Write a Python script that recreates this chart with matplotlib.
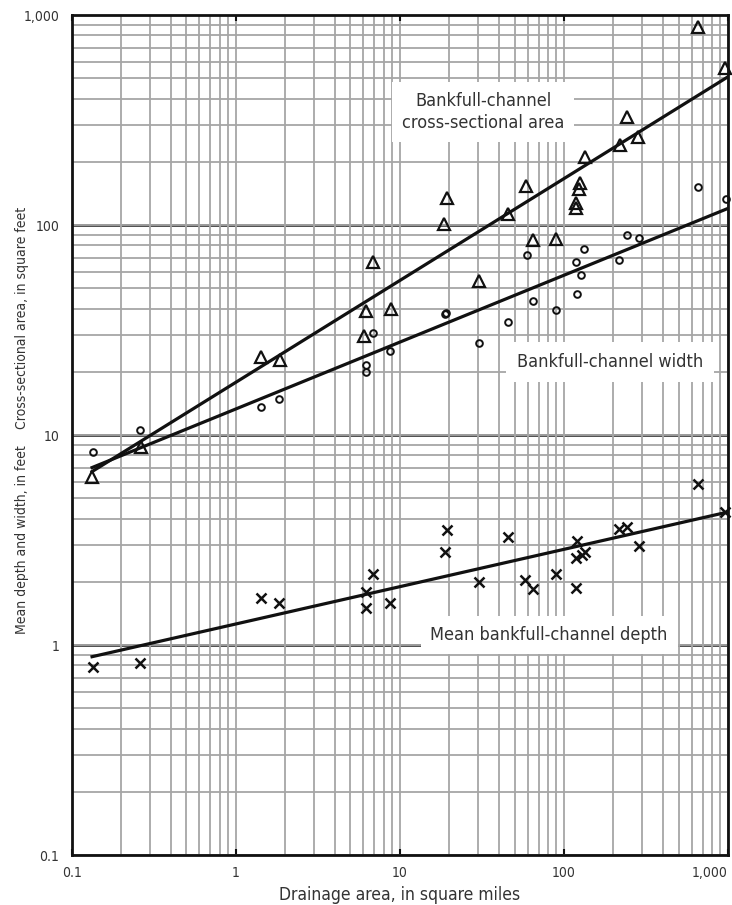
import matplotlib
matplotlib.use("Agg")
import matplotlib.pyplot as plt
from matplotlib.ticker import NullFormatter, LogLocator

plt.rcParams["font.family"] = ["DejaVu Sans"]
plt.rcParams["font.stretch"] = "condensed"

# drainage area (sq mi) and bankfull cross-sectional area (sq ft)
area_x = [0.132, 0.266, 1.43, 1.85, 6.03, 6.26, 6.87, 8.77, 18.5, 19.3, 30.5, 45.7,
          58.6, 65.0, 89.3, 119, 119, 123, 126, 134, 219, 241, 284, 659, 959]
area_y = [6.3, 8.8, 23.4, 22.8, 29.6, 38.9, 66.9, 39.7, 101.6, 134, 54.4, 112.8,
          153, 85.3, 85.5, 120, 127, 149, 158, 211, 240, 328, 263, 880, 557]

# bankfull width (ft)
width_x = [0.134, 0.262, 1.43, 1.83, 6.18, 6.18, 6.87, 8.69, 18.9, 19.1, 30.5, 45.7,
           59.2, 65.0, 88.9, 118, 120.5, 127, 132.5, 216, 243, 287, 659, 973]
width_y = [8.3, 10.6, 13.6, 14.9, 21.5, 20.0, 30.5, 25.2, 37.7, 38.2, 27.3, 34.4,
           72, 43.6, 39.4, 66.9, 46.8, 57.6, 77.1, 68.1, 89.3, 87, 151, 133]

# mean bankfull depth (ft)
depth_x = [0.134, 0.262, 1.43, 1.83, 6.21, 6.26, 6.87, 8.69, 18.8, 19.3, 30.5, 45.7,
           58.3, 65.0, 88.9, 119, 121, 119, 128, 134, 217, 243, 287, 659, 959]
depth_y = [0.79, 0.82, 1.67, 1.58, 1.50, 1.79, 2.18, 1.58, 2.76, 3.53, 2.0, 3.26,
           2.04, 1.85, 2.17, 1.86, 3.14, 2.59, 2.68, 2.78, 3.57, 3.66, 2.97, 5.84, 4.28]

# regression lines (endpoints)
fit_x = [0.133, 1000]
fit_area = [6.7, 508]
fit_width = [7.0, 120]
fit_depth = [0.88, 4.3]

xticks = [0.1, 1, 10, 100, 1000]
xlabels = ["0.1", "1", "10", "100", "1,000"]
yticks = [0.1, 1, 10, 100, 1000]
ylabels = ["0.1", "1", "10", "100", "1,000"]

fig = plt.figure(figsize=(7.32, 9.05), dpi=100)
ax = fig.add_axes([0.098, 0.0552, 0.8965, 0.9282])
ax.set_xscale("log")
ax.set_yscale("log")
ax.set_xlim(0.1, 1000)
ax.set_ylim(0.1, 1000)

# graph-paper grid
ax.xaxis.set_minor_locator(LogLocator(base=10, subs=range(2, 10)))
ax.yaxis.set_minor_locator(LogLocator(base=10, subs=range(2, 10)))
ax.xaxis.set_minor_formatter(NullFormatter())
ax.yaxis.set_minor_formatter(NullFormatter())
ax.grid(which="both", color="#a6a6a6", lw=1.3, zorder=0)
for yv in [1, 10, 100]:
    ax.axhline(yv, color="#1a1a1a", lw=1.8, zorder=1)

ax.plot(fit_x, fit_area, color="#111111", lw=2.3, zorder=3)
ax.plot(fit_x, fit_width, color="#111111", lw=2.3, zorder=3)
ax.plot(fit_x, fit_depth, color="#111111", lw=2.3, zorder=3)

ax.plot(area_x, area_y, ls="none", marker="^", ms=9, mfc="none", mec="#111111",
        mew=1.6, zorder=4, clip_on=False)
ax.plot(width_x, width_y, ls="none", marker="o", ms=4.8, mfc="none", mec="#111111",
        mew=1.4, zorder=4, clip_on=False)
ax.plot(depth_x, depth_y, ls="none", marker="x", ms=7, mec="#111111",
        mew=1.8, zorder=4, clip_on=False)

ax.text(32.2, 345, "Bankfull-channel\ncross-sectional area", ha="center", va="center",
        fontsize=13, color="#333333", linespacing=1.3, zorder=5,
        bbox=dict(fc="white", ec="none", boxstyle="square,pad=0.55"))
ax.text(191, 22.3, "Bankfull-channel width", ha="center", va="center",
        fontsize=13, color="#333333", zorder=5,
        bbox=dict(fc="white", ec="none", boxstyle="square,pad=0.6"))
ax.text(81.3, 1.116, "Mean bankfull-channel depth", ha="center", va="center",
        fontsize=13, color="#333333", zorder=5,
        bbox=dict(fc="white", ec="none", boxstyle="square,pad=0.55"))

ax.set_xticks(xticks)
ax.set_xticklabels(xlabels)
ax.set_yticks(yticks)
ax.set_yticklabels(ylabels)
ax.get_xticklabels()[-1].set_horizontalalignment("right")
ax.tick_params(axis="x", which="major", direction="in", length=4, width=1.5,
               top=True, labelsize=10, pad=8, colors="#111111", labelcolor="#333333")
ax.tick_params(axis="y", which="major", length=0, labelsize=10, pad=9,
               labelcolor="#333333")
ax.tick_params(which="minor", length=0)

for s in ax.spines.values():
    s.set_linewidth(2)
    s.set_color("#111111")
    s.set_zorder(6)

ax.set_xlabel("Drainage area, in square miles", fontsize=12.5, color="#333333", labelpad=4)
fig.text(0.030, 1 - 318 / 905, "Cross-sectional area, in square feet", rotation=90,
         ha="center", va="center", fontsize=10, color="#333333")
fig.text(0.030, 1 - 540 / 905, "Mean depth and width, in feet", rotation=90,
         ha="center", va="center", fontsize=10, color="#333333")

fig.savefig("out.png", dpi=100)
